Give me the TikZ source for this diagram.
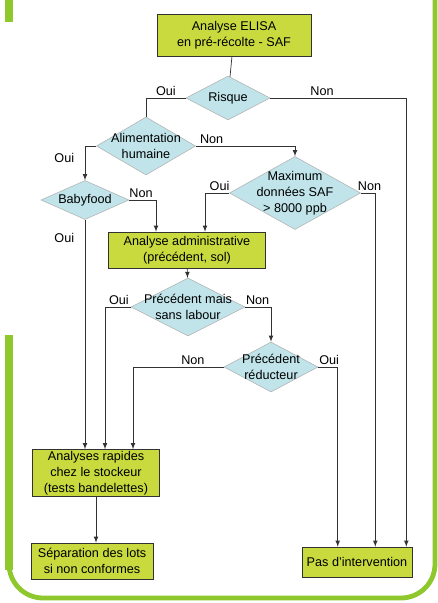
\documentclass[tikz,border=0pt]{standalone}
\usepackage{fontspec}
\setmainfont{Liberation Sans}
\usetikzlibrary{shapes.geometric}
\definecolor{boxgreen}{RGB}{200,218,62}
\definecolor{diacyan}{RGB}{192,228,234}
\definecolor{framegreen}{RGB}{142,200,44}
\definecolor{linegray}{RGB}{50,50,50}
\begin{document}
\begin{tikzpicture}[x=0.025cm, y=-0.025cm, font=\fontsize{9}{11.5}\selectfont]
\tikzstyle{box}=[rectangle, draw=linegray, fill=boxgreen, align=center, inner sep=0pt]
\tikzstyle{dia}=[diamond, draw=gray!60, fill=diacyan, inner sep=0pt]
\tikzstyle{arr}=[draw=linegray, line width=0.5pt, -latex]
\tikzstyle{lin}=[draw=linegray, line width=0.5pt]
\tikzstyle{lab}=[inner sep=1.5pt]

\useasboundingbox (0,0) rectangle (438,603);

% cadre vert
\draw[framegreen, line width=0.2cm] (9,0) -- (9,22);
\draw[framegreen, line width=0.2cm] (9,335) -- (9,570);
\draw[framegreen, line width=0.12cm, rounded corners=0.85cm] (9,335) -- (9,598) -- (435,598) -- (435,0);

% rectangles
\node[box, minimum width=3.85cm, minimum height=1.05cm] (elisa) at (234,35) {Analyse ELISA\\en pré-récolte - SAF};
\node[box, minimum width=3.925cm, minimum height=0.9cm] (admin) at (187,250) {Analyse administrative\\(précédent, sol)};
\node[box, minimum width=3.175cm, minimum height=1.175cm] (rapid) at (96,473) {Analyses rapides\\chez le stockeur\\(tests bandelettes)};
\node[box, minimum width=3.05cm, minimum height=0.9cm] (sep) at (92,561) {Séparation des lots\\si non conformes};
\node[box, minimum width=2.75cm, minimum height=0.75cm] (pas) at (357,562) {Pas d'intervention};

% losanges
\node[dia, minimum width=2.1cm, minimum height=1.1cm, label={center:Risque}] (risk) at (228,98) {};
\node[dia, minimum width=2.475cm, minimum height=1.45cm, label={[align=center]center:Alimentation\\humaine}] (alim) at (146,146) {};
\node[dia, minimum width=3.275cm, minimum height=1.825cm, label={[align=center]center:Maximum\\données SAF\\> 8000 ppb}] (maxi) at (295,193) {};
\node[dia, minimum width=2.2cm, minimum height=0.975cm, label={center:Babyfood}] (baby) at (85,200) {};
\node[dia, minimum width=2.85cm, minimum height=1.45cm, label={[align=center]center:Précédent mais\\sans labour}] (prec1) at (188,307) {};
\node[dia, minimum width=2.35cm, minimum height=1.25cm, label={[align=center]center:Précédent\\réducteur}] (prec2) at (271,367) {};

% liaisons
\draw[lin] (elisa) -- (risk);
\draw[lin] (risk.west) -| node[lab, above, pos=0.25] {Oui} (alim.north);
\draw[arr] (risk.east) -| node[lab, above, pos=0.19] {Non} ([xshift=-0.15cm]pas.north east);

\draw[arr] (alim.west) -| node[lab, left=6pt, pos=0.68] {Oui} (baby.north);
\draw[arr] (alim.east) -| node[lab, above, pos=0.08] {Non} (maxi.north);

\draw[arr] (maxi.west) -| node[lab, above, pos=0.2] {Oui} ([xshift=0.45cm]admin.north);
\draw[arr] (maxi.east) -| node[lab, above, pos=0.3] {Non} ([xshift=-0.925cm]pas.north east);

\draw[arr] (baby.east) -| node[lab, above, pos=0.22] {Non} ([xshift=-0.775cm]admin.north);
\draw[arr] (baby.south) -- node[lab, left=6pt, pos=0.08] {Oui} (baby.south |- rapid.north);

\draw[arr] (admin) -- (prec1);
\draw[arr] (prec1.west) -| node[lab, above, pos=0.23] {Oui} ([xshift=0.225cm]rapid.north);
\draw[arr] (prec1.east) -| node[lab, above, pos=0.24] {Non} (prec2.north);

\draw[arr] (prec2.west) -| node[lab, above, pos=0.17] {Non} ([xshift=0.925cm]rapid.north);
\draw[arr] (prec2.east) -| node[lab, above, pos=0.28] {Oui} ([xshift=0.9cm]pas.north west);

\draw[arr] (rapid.south) -- (rapid.south |- sep.north);

\end{tikzpicture}
\end{document}
